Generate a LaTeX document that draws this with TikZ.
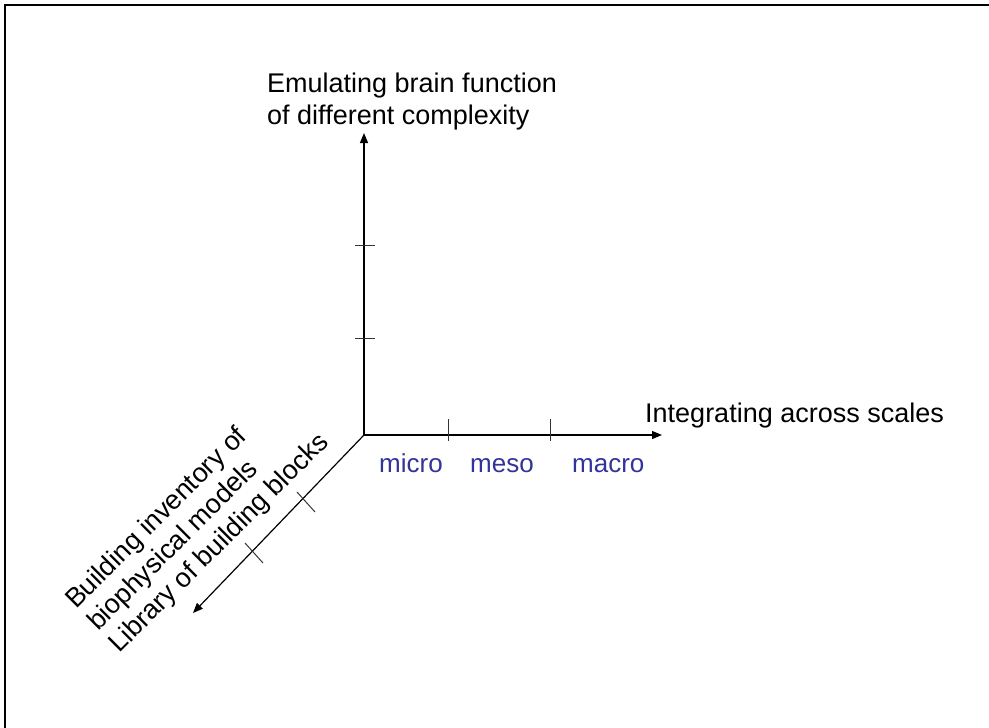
\documentclass[tikz,border=0pt]{standalone}
\usepackage{fontspec}
\setmainfont{Liberation Sans}
\usetikzlibrary{arrows.meta, positioning}
\definecolor{scaleblue}{RGB}{51,51,153}

\begin{document}
\begin{tikzpicture}[
  x=1pt, y=-1pt,
  axis/.style={-{Triangle[length=10pt, width=8pt]}, line width=1.2pt},
  tick/.style={line width=1pt, black!80},
  label/.style={font=\fontsize{27}{32}\selectfont, inner sep=0pt},
  scale label/.style={font=\fontsize{26}{31}\selectfont, inner sep=0pt,
    text=scaleblue, anchor=base west},
]
\useasboundingbox (0,0) rectangle (989,728);

% Frame
\draw[line width=2pt] (5,728) -- (5,5) -- (989,5);

% Axes
\coordinate (origin) at (364,435);
\coordinate (up tip) at (364,133);
\coordinate (right tip) at (662,435);
\coordinate (down tip) at (193,613);
\draw[axis] (origin) -- (up tip);
\draw[axis] (origin) -- (right tip);
\draw[axis] (origin) -- (down tip);

% Ticks
\foreach \y in {245,338} \draw[tick] (355,\y) -- (375,\y);
\foreach \x in {448,550} \draw[tick] (\x,419) -- (\x,441);
\draw[tick] (297,492) -- (315,512);
\draw[tick] (245,543) -- (263,563);

% Labels
\node[label, align=left, anchor=north west] (function) at (267,73)
  {Emulating brain function\\of different complexity};
\node[label, anchor=base west] (scales) at (645,422) {Integrating across scales};
\node[scale label] (micro) at (379,472) {micro};
\node[scale label] (meso) at (470,472) {meso};
\node[scale label] (macro) at (572,472) {macro};
\node[label, font=\fontsize{27}{31}\selectfont, align=left, anchor=north west,
  rotate=45] (inventory) at (62,596)
  {Building inventory of\\biophysical models\\Library of building blocks};

\end{tikzpicture}
\end{document}
